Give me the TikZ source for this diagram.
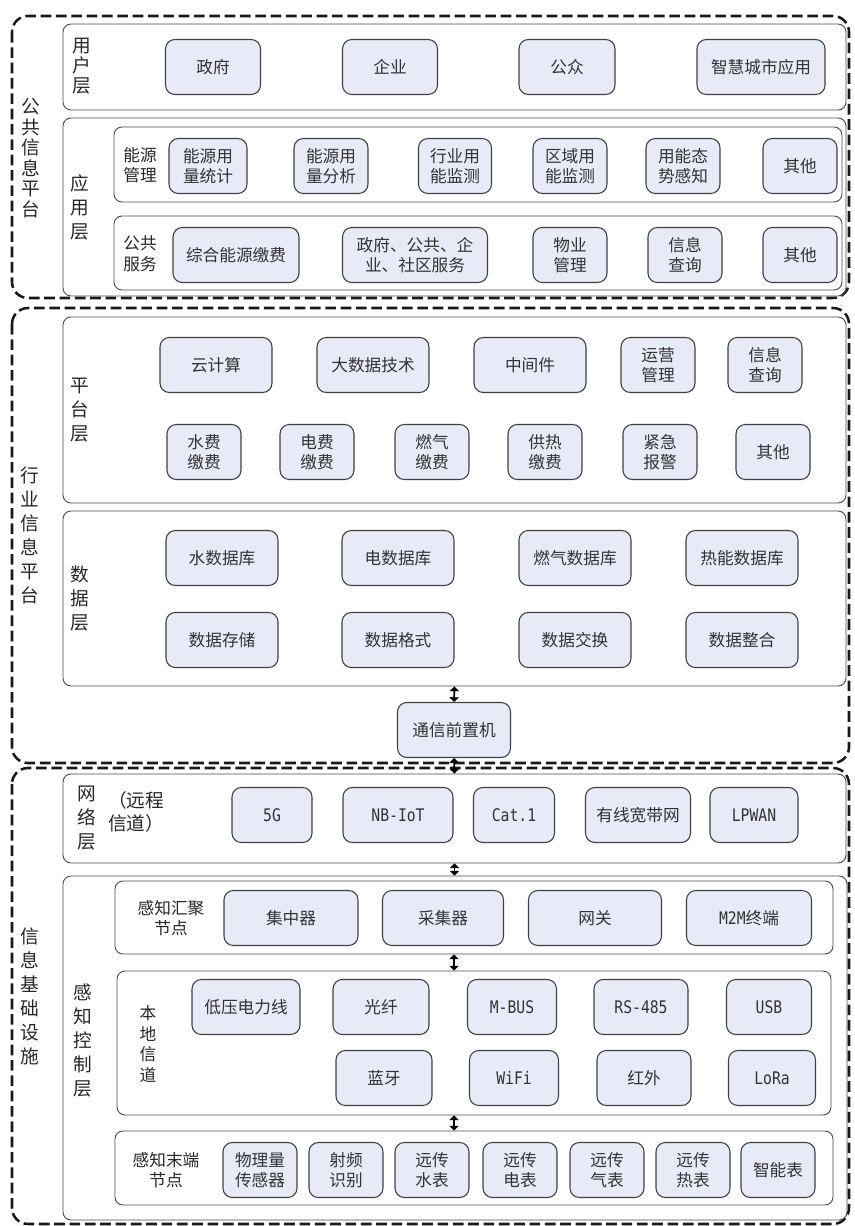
\documentclass[tikz,border=0pt]{standalone}
\usepackage{fontspec}
\setmainfont{Noto Sans CJK SC}
\newfontfamily\latinmono[FakeStretch=0.85]{DejaVu Sans Mono}
\usetikzlibrary{arrows.meta}
\definecolor{itemfill}{RGB}{231,235,247}
\begin{document}
\begin{tikzpicture}[x=0.75pt,y=-0.75pt,line join=round,>={Triangle[length=3.5pt,width=7pt]},
	zone/.style={draw=black!90,line width=1.9pt,dash pattern=on 8pt off 3.5pt,rounded corners=12pt},
	layer/.style={draw=black!70,line width=0.7pt,rounded corners=6pt,inner sep=0pt},
	item/.style={draw=black!75,line width=0.8pt,fill=itemfill,rounded corners=7pt,align=center,inner sep=1pt,text=black!80,font=\fontsize{12.5}{15}\selectfont,minimum height=41.25pt},
	boxsize/.style 2 args={minimum width=#1*0.75pt,minimum height=#2*0.75pt},
	wd/.style={minimum width=#1*0.75pt},
	tag/.style={align=center,text=black!85,font=\fontsize{14}{18}\selectfont},
	subtag/.style={align=center,text=black!85,font=\fontsize{12.5}{15.5}\selectfont},
	link/.style={<->,line width=1.4pt}]
	\useasboundingbox (0,0) rectangle (854,1226);
	\draw[zone] (12,16) rectangle (849,298);
	\draw[zone] (12,308) rectangle (849,763);
	\draw[zone] (12,768) rectangle (849,1224);
	\node[tag,font=\fontsize{14}{15.4}\selectfont] (zoneA) at (31,158) {公\\共\\信\\息\\平\\台};
	\node[tag] (zoneB) at (30,535) {行\\业\\信\\息\\平\\台};
	\node[tag] (zoneC) at (30,996) {信\\息\\基\\础\\设\\施};
	
	\node[layer,boxsize={783}{86}] (userlayer) at (454.5,67) {};
	\node[tag,font=\fontsize{14}{15}\selectfont] (usertag) at (82,66) {用\\户\\层};
	\node[item,wd=95] (gov) at (213,67) {政府};
	\node[item,wd=95] (firm) at (390,67) {企业};
	\node[item,wd=96] (public) at (567,67) {公众};
	\node[item,wd=128] (city) at (761,67) {智慧城市应用};
	
	\node[layer,boxsize={783}{178}] (applayer) at (454.5,207) {};
	\node[tag] (apptag) at (80,207) {应\\用\\层};
	\node[layer,boxsize={728}{75}] (energybox) at (478,164.5) {};
	\node[subtag] (energytag) at (140,165) {能源\\管理};
	\node[item,wd=78] (stat) at (208,166) {能源用\\量统计};
	\node[item,wd=74] (anal) at (331,166) {能源用\\量分析};
	\node[item,wd=73] (trade) at (455,166) {行业用\\能监测};
	\node[item,wd=74] (area) at (570,166) {区域用\\能监测};
	\node[item,wd=74] (sense) at (683,166) {用能态\\势感知};
	\node[item,wd=74] (otherA) at (800,166) {其他};
	\node[layer,boxsize={728}{74}] (servicebox) at (478,253) {};
	\node[subtag] (servicetag) at (140,254) {公共\\服务};
	\node[item,wd=126] (pay) at (236,255) {综合能源缴费};
	\node[item,wd=145] (serve) at (415,255) {政府、公共、企\\业、社区服务};
	\node[item,wd=74] (prop) at (570,255) {物业\\管理};
	\node[item,wd=74] (queryA) at (685,255) {信息\\查询};
	\node[item,wd=74] (otherB) at (800,255) {其他};
	
	\node[layer,boxsize={783}{186}] (platlayer) at (454.5,410) {};
	\node[tag] (plattag) at (80,410) {平\\台\\层};
	\node[item,wd=112] (cloud) at (216,365) {云计算};
	\node[item,wd=112] (bigdata) at (373,365) {大数据技术};
	\node[item,wd=112] (middle) at (530,365) {中间件};
	\node[item,wd=74] (oper) at (658,365) {运营\\管理};
	\node[item,wd=74] (queryB) at (765,365) {信息\\查询};
	\node[item,wd=74] (waterfee) at (204,452) {水费\\缴费};
	\node[item,wd=74] (powerfee) at (317,452) {电费\\缴费};
	\node[item,wd=74] (gasfee) at (432,452) {燃气\\缴费};
	\node[item,wd=74] (heatfee) at (545,452) {供热\\缴费};
	\node[item,wd=74] (alarm) at (660,452) {紧急\\报警};
	\node[item,wd=74] (otherC) at (773,452) {其他};
	
	\node[layer,boxsize={783}{175}] (datalayer) at (454.5,598.5) {};
	\node[tag] (datatag) at (80,598) {数\\据\\层};
	\node[item,wd=112] (waterdb) at (222,558) {水数据库};
	\node[item,wd=112] (powerdb) at (398,558) {电数据库};
	\node[item,wd=112] (gasdb) at (575,558) {燃气数据库};
	\node[item,wd=112] (heatdb) at (742,558) {热能数据库};
	\node[item,wd=112] (store) at (222,640) {数据存储};
	\node[item,wd=112] (format) at (398,640) {数据格式};
	\node[item,wd=112] (swap) at (575,640) {数据交换};
	\node[item,wd=112] (merge) at (742,640) {数据整合};
	\node[item,wd=113] (front) at (454,730) {通信前置机};
	
	\node[layer,boxsize={783}{89}] (netlayer) at (454.5,818.5) {};
	\node[tag] (nettag) at (87,818) {网\\络\\层};
	\node[tag,align=left,font=\fontsize{14}{17.5}\selectfont] (remotetag) at (136,812) {（远程\\信道）};
	\node[item,wd=80,font=\latinmono\fontsize{13}{15}\selectfont] (fiveg) at (272,815) {5G};
	\node[item,wd=110,font=\latinmono\fontsize{13}{15}\selectfont] (nbiot) at (398,815) {NB-IoT};
	\node[item,wd=81,font=\latinmono\fontsize{13}{15}\selectfont] (cat) at (514,815) {Cat.1};
	\node[item,wd=105] (wired) at (638,815) {有线宽带网};
	\node[item,wd=88,font=\latinmono\fontsize{13}{15}\selectfont] (lpwan) at (754,815) {LPWAN};
	
	\node[layer,boxsize={784}{344}] (ctrllayer) at (455,1048) {};
	\node[tag] (ctrltag) at (83,1040) {感\\知\\控\\制\\层};
	\node[layer,boxsize={718}{73}] (gather) at (474,917.5) {};
	\node[subtag] (gathertag) at (171,918) {感知汇聚\\节点};
	\node[item,wd=134] (conc) at (291,918) {集中器};
	\node[item,wd=121] (coll) at (443,918) {采集器};
	\node[item,wd=133] (gate) at (595,918) {网关};
	\node[item,wd=125] (mtom) at (749,918) {{\latinmono\fontsize{13}{15}\selectfont M2M}终端};
	\node[layer,boxsize={714}{144}] (local) at (474,1043) {};
	\node[subtag] (localtag) at (148,1044) {本\\地\\信\\道};
	\node[item,wd=108] (plc) at (246,1007) {低压电力线};
	\node[item,wd=96] (fiber) at (381,1007) {光纤};
	\node[item,wd=89,font=\latinmono\fontsize{13}{15}\selectfont] (mbus) at (512,1007) {M-BUS};
	\node[item,wd=94,font=\latinmono\fontsize{13}{15}\selectfont] (rs) at (641,1007) {RS-485};
	\node[item,wd=85,font=\latinmono\fontsize{13}{15}\selectfont] (usb) at (769,1007) {USB};
	\node[item,wd=96] (blue) at (384,1078) {蓝牙};
	\node[item,wd=89,font=\latinmono\fontsize{13}{15}\selectfont] (wifi) at (514,1078) {WiFi};
	\node[item,wd=94] (infra) at (644,1078) {红外};
	\node[item,wd=87,font=\latinmono\fontsize{13}{15}\selectfont] (lora) at (772,1078) {LoRa};
	\node[layer,boxsize={718}{74}] (ending) at (474,1168) {};
	\node[subtag] (endingtag) at (166,1170) {感知末端\\节点};
	\node[item,wd=74] (phys) at (260,1170) {物理量\\传感器};
	\node[item,wd=74] (rfid) at (346,1170) {射频\\识别};
	\node[item,wd=74] (wmeter) at (432,1170) {远传\\水表};
	\node[item,wd=74] (emeter) at (520,1170) {远传\\电表};
	\node[item,wd=74] (gmeter) at (607,1170) {远传\\气表};
	\node[item,wd=74] (hmeter) at (693,1170) {远传\\热表};
	\node[item,wd=74] (smart) at (778,1170) {智能表};
	
	\draw[link] (datalayer.south) -- (front.north);
	\draw[link] (front.south) -- (netlayer.north);
	\draw[link] (netlayer.south) -- (netlayer.south |- ctrllayer.north);
	\draw[link] (gather.south -| front) -- (local.north -| front);
	\draw[link] (local.south -| front) -- (ending.north -| front);
\end{tikzpicture}
\end{document}
